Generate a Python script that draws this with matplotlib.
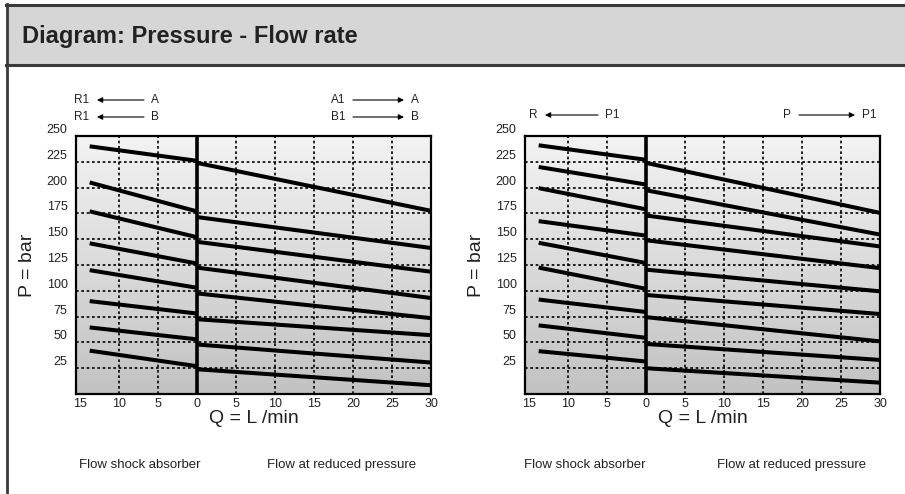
import numpy as np
import matplotlib
matplotlib.use("Agg")
import matplotlib.pyplot as plt
from matplotlib.patches import Rectangle, FancyArrowPatch
from matplotlib.lines import Line2D
from matplotlib.colors import LinearSegmentedColormap

plt.rcParams['font.family'] = ['Liberation Sans', 'DejaVu Sans']

# ---------------- data ----------------
title = "Diagram: Pressure - Flow rate"
x_ticks = [-15, -10, -5, 0, 5, 10, 15, 20, 25, 30]
x_tick_labels = ["15", "10", "5", "0", "5", "10", "15", "20", "25", "30"]
y_ticks = [25, 50, 75, 100, 125, 150, 175, 200, 225, 250]
y_tick_labels = ["25", "50", "75", "100", "125", "150", "175", "200", "225", "250"]

q_shock_start = -13.7   # shock absorber flow (plotted to the left of 0)
q_zero = 0
q_reduced_end = 30

# Left chart (R1<-A / R1<-B  and  A1->A / B1->B)
left_shock_start = [240, 205, 177, 146, 120, 90, 64.5, 42]
left_shock_end = [226, 177, 152, 126.5, 103, 78, 53, 27]
left_reduced_start = [224, 171.5, 147.5, 122.5, 97.5, 72.5, 48, 24]
left_reduced_end = [177.5, 141.5, 118.5, 93, 73.5, 57, 30.5, 8.5]

# Right chart (R<-P1  and  P->P1)
right_shock_start = [241, 220, 199.5, 167.5, 146.5, 122.5, 91.5, 66.5, 41.5]
right_shock_end = [227, 203, 179, 153.5, 127, 102, 79.5, 54.5, 31.5]
right_reduced_start = [224, 197.5, 173, 149, 120.5, 96, 74.5, 48.5, 25]
right_reduced_end = [175.5, 154.5, 143, 122, 99.5, 77.5, 51, 33, 11]

# ---------------- figure ----------------
W, H = 905, 494
fig = plt.figure(figsize=(W / 100, H / 100), dpi=100)
fig.patch.set_facecolor('white')


def fx(px):
    return px / W


def fy(py):
    return 1 - py / H


# frame and title band
fig.patches.append(Rectangle((fx(7), fy(65)), fx(905) - fx(7), fy(5) - fy(65),
                             transform=fig.transFigure, facecolor='#d6d6d6',
                             edgecolor='none', zorder=0))
frame_col = '#3a3a3a'
fig.lines.append(Line2D([fx(6), fx(905)], [fy(5), fy(5)], transform=fig.transFigure,
                        color=frame_col, lw=2.2))
fig.lines.append(Line2D([fx(6), fx(905)], [fy(65.5), fy(65.5)], transform=fig.transFigure,
                        color=frame_col, lw=2.2))
fig.lines.append(Line2D([fx(6.5), fx(6.5)], [fy(4), fy(494)], transform=fig.transFigure,
                        color=frame_col, lw=2.0))
fig.text(fx(22), fy(37), title, fontsize=17, fontweight='bold', color='#222222',
         ha='left', va='center')

gradient = np.linspace(0, 1, 256).reshape(-1, 1)
bg_cmap = LinearSegmentedColormap.from_list('bg', ['#f3f3f3', '#c2c2c2'])


def make_chart(left_px, shock_s, shock_e, red_s, red_e):
    ax = fig.add_axes([fx(left_px), fy(394), fx(355), 258 / H])
    ax.set_xlim(-15.45, 30)
    ax.set_ylim(0, 250)
    ax.imshow(gradient, extent=[0, 1, 0, 1], transform=ax.transAxes, aspect='auto',
              cmap=bg_cmap, zorder=0)
    for xv in [-10, -5, 5, 10, 15, 20, 25]:
        ax.axvline(xv, color='black', lw=1.2, ls=(0, (1.6, 1.6)), zorder=1)
    for yv in y_ticks[:-1]:
        ax.axhline(yv, color='black', lw=1.2, ls=(0, (1.6, 1.6)), zorder=1)
    ax.axvline(0, color='black', lw=2.6, zorder=3)
    for a, b in zip(shock_s, shock_e):
        ax.plot([q_shock_start, q_zero], [a, b], color='black', lw=2.9,
                solid_capstyle='butt', zorder=2)
    for a, b in zip(red_s, red_e):
        ax.plot([q_zero, q_reduced_end], [a, b], color='black', lw=2.9,
                solid_capstyle='butt', zorder=2)
    ax.set_xticks(x_ticks)
    ax.set_xticklabels(x_tick_labels, fontsize=9, color='#222222')
    ax.set_yticks(y_ticks)
    ax.set_yticklabels(y_tick_labels, fontsize=9, color='#222222', va='bottom')
    ax.tick_params(length=0, pad=6)
    ax.tick_params(axis='x', pad=3)
    for s in ax.spines.values():
        s.set_linewidth(1.6)
        s.set_color('black')
        s.set_zorder(4)
    ax.set_xlabel("Q = L /min", fontsize=14, color='#222222', labelpad=0)
    ax.set_ylabel("P = bar", fontsize=14, color='#222222', labelpad=8)
    return ax


ax1 = make_chart(76, left_shock_start, left_shock_end, left_reduced_start, left_reduced_end)
ax2 = make_chart(525, right_shock_start, right_shock_end, right_reduced_start, right_reduced_end)


def arrow_label(left_txt, right_txt, x0, x1, y, head_left):
    fs = 8.5
    fig.text(fx(x0 - 8), fy(y), left_txt, fontsize=fs, ha='right', va='center', color='#222222')
    fig.text(fx(x1 + 7), fy(y), right_txt, fontsize=fs, ha='left', va='center', color='#222222')
    if head_left:
        start, end = (x1, y), (x0, y)
    else:
        start, end = (x0, y), (x1, y)
    fig.add_artist(FancyArrowPatch(
        (fx(start[0]), fy(start[1])), (fx(end[0]), fy(end[1])),
        transform=fig.transFigure, arrowstyle='-|>', mutation_scale=8,
        lw=0.8, color='black', shrinkA=0, shrinkB=0))


arrow_label("R1", "A", 97, 144, 100, True)
arrow_label("R1", "B", 97, 144, 117, True)
arrow_label("A1", "A", 353, 404, 100, False)
arrow_label("B1", "B", 353, 404, 117, False)
arrow_label("R", "P1", 545, 598, 115, True)
arrow_label("P", "P1", 799, 855, 115, False)

for cx, txt in [(140, "Flow shock absorber"), (342, "Flow at reduced pressure"),
                (585, "Flow shock absorber"), (792, "Flow at reduced pressure")]:
    fig.text(fx(cx), fy(465), txt, fontsize=9.5, ha='center', va='center', color='#222222')

fig.savefig("out.png", dpi=100)
